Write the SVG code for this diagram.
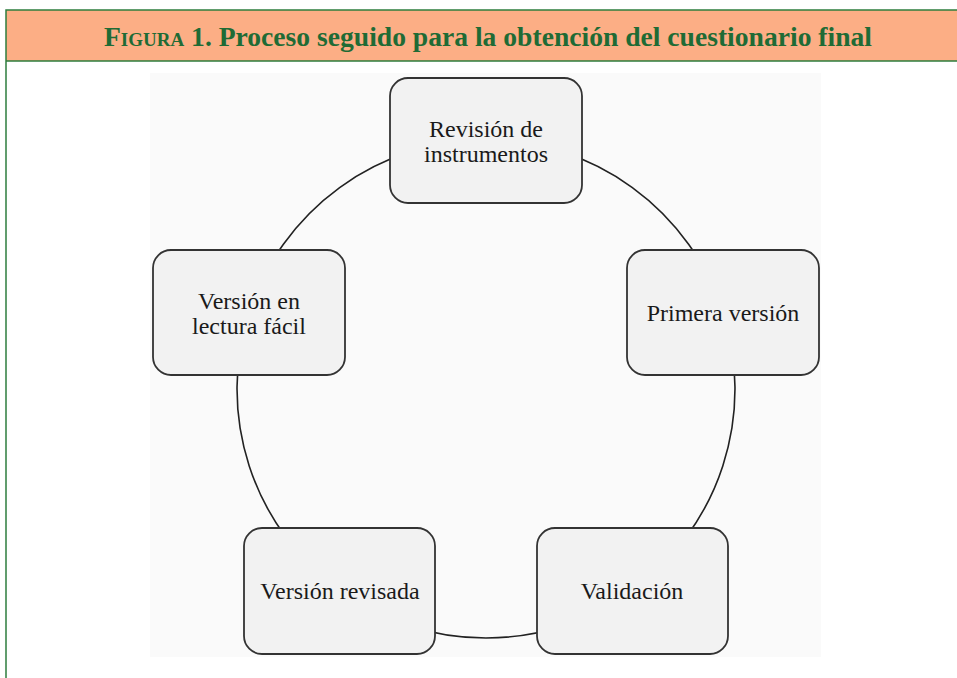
<svg xmlns="http://www.w3.org/2000/svg" width="957" height="678" viewBox="0 0 957 678">
<defs>
<style>
.node rect{fill:#f2f2f2;stroke:#333;stroke-width:1.8}
.node text{font-family:"Liberation Serif","Times New Roman",serif;font-size:24px;fill:#1a1a1a;text-anchor:middle}
.conn path{fill:none;stroke:#222;stroke-width:1.6}
.frame{stroke:#2e7d3e;stroke-width:1.5;fill:none}
</style>
</defs>
<rect x="0" y="0" width="957" height="678" fill="#ffffff"/>
<rect x="6" y="10" width="960" height="51" fill="#fcae85"/>
<path class="frame" d="M6,678 V10 H957 M6,61 H957"/>
<text x="488" y="46" text-anchor="middle" font-family="Liberation Serif, serif" font-weight="bold" font-size="27.6" fill="#1f6b35"><tspan font-variant="small-caps">Figura 1.</tspan> Proceso seguido para la obtención del cuestionario final</text>
<rect x="150" y="73" width="671" height="584" fill="#fafafa"/>
<g class="conn" id="connectors">
<path d="M486,140 A249,249 0 0 1 722.8,312.1"/>
<path d="M722.8,312.1 A249,249 0 0 1 632.4,590.4"/>
<path d="M632.4,590.4 A249,249 0 0 1 339.6,590.4"/>
<path d="M339.6,590.4 A249,249 0 0 1 249.2,312.1"/>
<path d="M249.2,312.1 A249,249 0 0 1 486,140"/>
</g>
<g class="node" id="revision"><rect x="390" y="78" width="192" height="125" rx="18"/><text x="486" y="137">Revisión de</text><text x="486" y="162">instrumentos</text></g>
<g class="node" id="primera"><rect x="627" y="250" width="192" height="125" rx="18"/><text x="723" y="321">Primera versión</text></g>
<g class="node" id="validacion"><rect x="537" y="528" width="191" height="126" rx="18"/><text x="632" y="599">Validación</text></g>
<g class="node" id="revisada"><rect x="244" y="528" width="191" height="126" rx="18"/><text x="340" y="599">Versión revisada</text></g>
<g class="node" id="facil"><rect x="153" y="250" width="192" height="125" rx="18"/><text x="249" y="309">Versión en</text><text x="249" y="334">lectura fácil</text></g>
</svg>
